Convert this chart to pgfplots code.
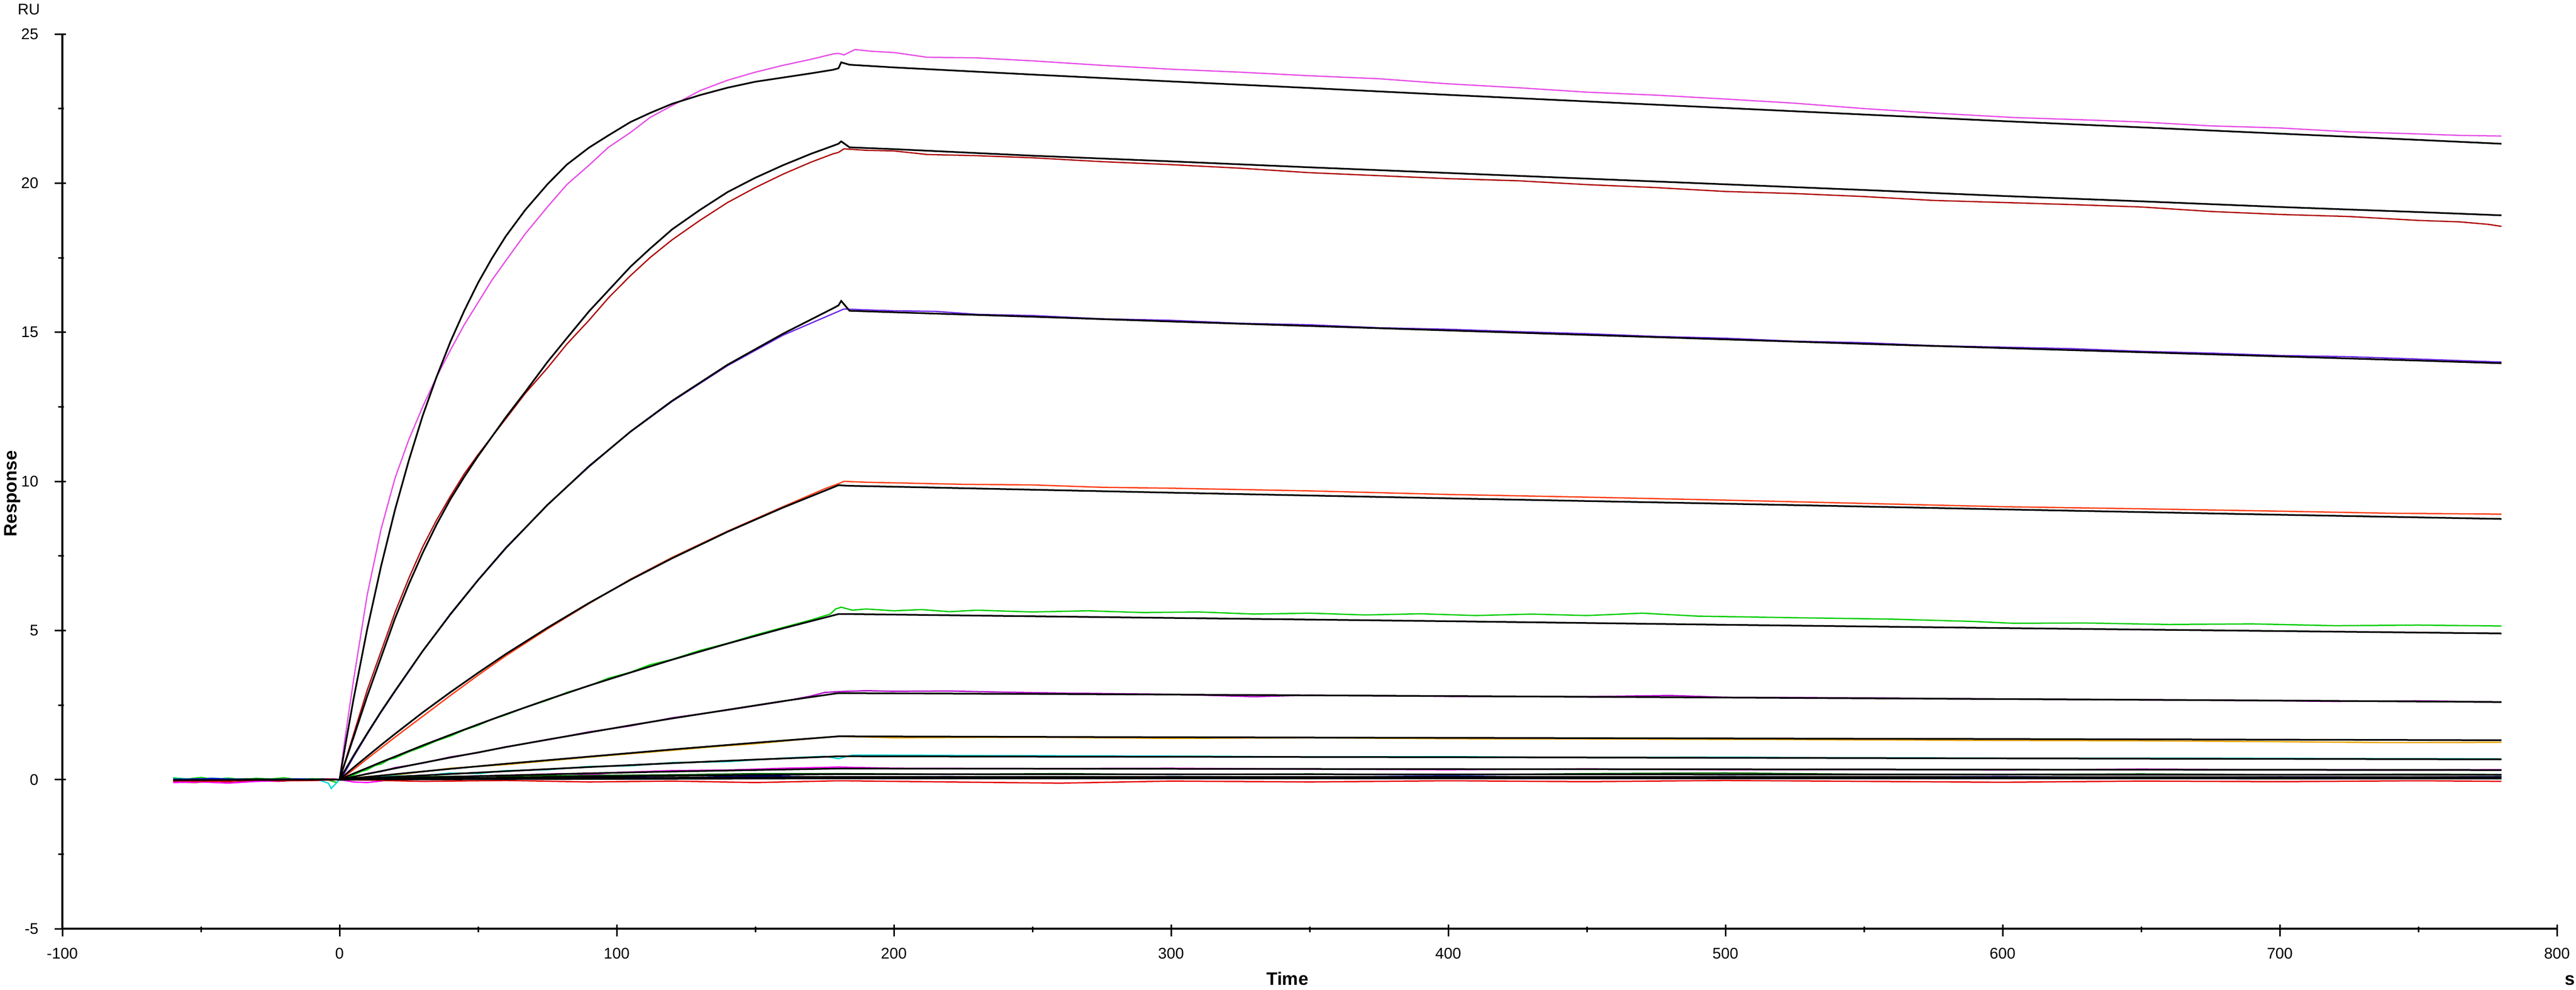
\documentclass[border=0pt]{standalone}
\usepackage{fontspec}
\setmainfont{Liberation Sans}
\usepackage{pgfplots}
\pgfplotsset{compat=1.18}
\definecolor{cMag}{RGB}{230,80,230}
\definecolor{cDRed}{RGB}{175,10,10}
\definecolor{cViol}{RGB}{110,40,235}
\definecolor{cORed}{RGB}{255,60,20}
\definecolor{cGreen}{RGB}{0,205,0}
\definecolor{cPurp}{RGB}{175,0,200}
\definecolor{cOrange}{RGB}{235,165,0}
\definecolor{cCyan}{RGB}{0,215,215}
\definecolor{cMag2}{RGB}{255,0,255}
\definecolor{cDGreen}{RGB}{0,100,0}
\definecolor{cBlue}{RGB}{0,0,200}
\definecolor{cRed}{RGB}{230,0,0}
\begin{document}
\begin{tikzpicture}
\path[use as bounding box] (-24.2pt,-23.6pt) rectangle (975.8pt,360.4pt);
\begin{axis}[
  at={(0,0)}, anchor=south west,
  scale only axis, width=968.4pt, height=347.2pt,
  xmin=-100, xmax=800, ymin=-5, ymax=25,
  axis x line=bottom, axis y line=left,
  axis line style={-, line width=0.7pt},
  xtick={-100,0,...,800}, ytick={-5,0,...,25},
  minor x tick num=1, minor y tick num=1,
  tick style={black, line width=0.6pt},
  tick align=center,
  major tick length=4.5pt, minor tick length=2.2pt,
  every major y tick/.append style={xshift=-0.8pt},
  every minor y tick/.append style={xshift=-0.5pt},
  every major x tick/.append style={yshift=-0.7pt},
  every minor x tick/.append style={yshift=-0.3pt},
  /pgf/number format/assume math mode=true,
  ticklabel style={font=\fontsize{6}{7}\selectfont},
  yticklabel style={xshift=-3.5pt},
  xticklabel style={yshift=-1.8pt},
  clip=true,
]
% ---------------- data (coloured) ----------------
\addplot[cMag, line width=0.5pt] coordinates {
(-60,-0.05)(-54,-0.08)(-48,-0.03)(-42,-0.07)(-36,-0.02)(-30,-0.06)(-24,-0.03)(-18,-0.01)(-12,0.0)(-6,-0.02)(-2,0.03)(0,0)
(2,1.4)(5,3.3)(10,6.2)(15,8.4)(20,10.1)(25,11.4)(30,12.5)(35,13.5)(40,14.4)(45,15.25)(50,16.0)(55,16.75)(60,17.4)(67,18.3)(75,19.2)(82,19.95)(90,20.6)(97,21.2)(105,21.7)(112,22.2)(120,22.6)(130,23.1)(140,23.45)(150,23.72)(160,23.95)(170,24.15)(178,24.33)(180,24.35)(182,24.3)(186,24.48)(192,24.42)(200,24.38)(212,24.22)(230,24.2)(250,24.1)(275,23.95)(300,23.82)(325,23.72)(350,23.6)(375,23.5)(400,23.33)(425,23.2)(450,23.05)(475,22.95)(500,22.82)(525,22.68)(550,22.5)(575,22.35)(604,22.2)(630,22.12)(650,22.05)(675,21.92)(700,21.85)(725,21.72)(750,21.65)(765,21.6)(780,21.58)};
\addplot[cDRed, line width=0.5pt] coordinates {
(-60,-0.08)(-52,-0.1)(-45,-0.05)(-38,-0.09)(-30,-0.04)(-22,-0.06)(-15,-0.02)(-8,-0.03)(-3,0.0)(0,0)
(2,0.6)(5,1.5)(10,3.0)(15,4.3)(20,5.6)(25,6.75)(30,7.8)(35,8.7)(40,9.5)(45,10.25)(50,10.9)(55,11.5)(60,12.1)(67,12.95)(75,13.8)(82,14.6)(90,15.4)(97,16.15)(105,16.9)(112,17.5)(120,18.1)(130,18.75)(140,19.35)(150,19.85)(160,20.3)(170,20.7)(178,20.98)(180,21.03)(182,21.15)(190,21.1)(200,21.08)(212,20.96)(230,20.92)(250,20.85)(275,20.72)(300,20.62)(325,20.5)(350,20.35)(375,20.25)(400,20.15)(425,20.08)(450,19.95)(475,19.85)(500,19.72)(525,19.65)(550,19.55)(575,19.42)(604,19.34)(625,19.28)(650,19.2)(675,19.05)(700,18.95)(725,18.88)(750,18.75)(765,18.7)(775,18.62)(780,18.55)};
\addplot[cViol, line width=0.5pt] coordinates {
(-60,0.04)(-53,0.01)(-46,0.05)(-40,0.0)(-33,0.03)(-26,-0.01)(-19,0.02)(-12,0.0)(-6,0.03)(0,0)
(2,0.25)(5,0.75)(10,1.52)(15,2.26)(20,2.95)(30,4.3)(40,5.56)(50,6.7)(60,7.78)(75,9.2)(90,10.52)(105,11.66)(120,12.68)(140,13.88)(160,14.9)(170,15.3)(178,15.62)(180,15.7)(182,15.78)(190,15.75)(200,15.72)(215,15.7)(230,15.6)(250,15.56)(275,15.45)(300,15.4)(325,15.3)(350,15.25)(375,15.15)(400,15.1)(425,15.02)(450,14.95)(475,14.86)(500,14.8)(525,14.7)(550,14.65)(575,14.55)(600,14.5)(625,14.45)(650,14.36)(675,14.3)(700,14.22)(725,14.18)(750,14.1)(765,14.05)(780,14.0)};
\addplot[cORed, line width=0.5pt] coordinates {
(-60,-0.03)(-50,0.02)(-42,-0.04)(-34,0.01)(-26,-0.02)(-18,0.03)(-10,-0.01)(-4,0.02)(0,0)
(2,0.12)(5,0.33)(10,0.7)(15,1.06)(20,1.42)(30,2.12)(40,2.82)(50,3.5)(60,4.15)(75,5.05)(90,5.9)(105,6.72)(120,7.45)(140,8.33)(160,9.15)(175,9.75)(180,9.92)(182,10.0)(190,9.97)(200,9.95)(225,9.9)(250,9.88)(275,9.8)(300,9.77)(350,9.68)(400,9.56)(450,9.47)(500,9.37)(550,9.26)(600,9.15)(650,9.08)(700,9.0)(740,8.93)(780,8.9)};
\addplot[cGreen, line width=0.5pt] coordinates {
(-60,0.06)(-55,0.02)(-50,0.07)(-45,0.01)(-40,0.05)(-35,0.0)(-30,0.04)(-25,0.02)(-20,0.06)(-15,0.0)(-10,0.03)(-5,0.01)(-1,-0.1)(0,0)
(2,0.05)(5,0.15)(8,0.28)(10,0.33)(13,0.48)(15,0.52)(18,0.68)(20,0.72)(25,0.93)(30,1.1)(35,1.3)(40,1.46)(45,1.66)(50,1.82)(55,2.02)(60,2.17)(67,2.42)(75,2.66)(82,2.92)(90,3.14)(97,3.4)(105,3.6)(112,3.85)(120,4.03)(130,4.33)(140,4.57)(150,4.85)(160,5.1)(170,5.35)(177,5.55)(179,5.72)(181,5.78)(185,5.68)(190,5.72)(200,5.66)(210,5.7)(220,5.63)(230,5.68)(250,5.62)(270,5.66)(290,5.6)(310,5.62)(330,5.55)(350,5.58)(370,5.52)(390,5.56)(410,5.5)(430,5.55)(450,5.5)(470,5.58)(490,5.48)(510,5.45)(530,5.42)(560,5.38)(590,5.3)(604,5.24)(630,5.25)(660,5.2)(690,5.22)(720,5.16)(750,5.18)(780,5.15)};
\addplot[cPurp, line width=0.5pt] coordinates {
(-60,-0.02)(-52,0.02)(-44,-0.03)(-36,0.01)(-28,-0.02)(-20,0.02)(-12,-0.01)(-5,0.01)(0,0)
(5,0.08)(10,0.2)(15,0.27)(20,0.4)(30,0.55)(40,0.76)(50,0.9)(60,1.1)(75,1.33)(90,1.6)(105,1.8)(120,2.07)(140,2.33)(160,2.62)(170,2.8)(175,2.92)(180,2.95)(190,2.98)(200,2.96)(220,2.97)(240,2.93)(260,2.9)(300,2.86)(330,2.78)(350,2.83)(400,2.79)(450,2.78)(480,2.82)(500,2.76)(550,2.74)(600,2.7)(650,2.68)(700,2.64)(720,2.62)(750,2.64)(780,2.6)};
\addplot[cOrange, line width=0.5pt] coordinates {
(-60,0.03)(-50,-0.01)(-40,0.02)(-30,-0.02)(-20,0.01)(-10,-0.01)(0,0)
(10,0.1)(20,0.15)(40,0.38)(60,0.5)(90,0.75)(120,0.98)(135,1.1)(150,1.2)(165,1.33)(180,1.45)(200,1.4)(250,1.42)(300,1.38)(350,1.4)(400,1.37)(450,1.36)(500,1.35)(550,1.33)(600,1.31)(650,1.3)(700,1.27)(740,1.24)(780,1.25)};
\addplot[cCyan, line width=0.5pt] coordinates {
(-60,0.05)(-52,0.0)(-45,0.04)(-38,0.01)(-30,0.03)(-22,-0.01)(-15,0.02)(-8,0.0)(-4,-0.12)(-3,-0.3)(-1,-0.1)(0,0)
(10,0.05)(20,0.12)(30,0.13)(40,0.22)(50,0.2)(60,0.3)(75,0.33)(90,0.44)(105,0.46)(120,0.57)(140,0.6)(160,0.72)(175,0.78)(180,0.7)(185,0.82)(200,0.82)(250,0.8)(300,0.79)(350,0.76)(400,0.77)(450,0.74)(500,0.75)(550,0.73)(600,0.72)(650,0.72)(700,0.71)(750,0.7)(780,0.69)};
\addplot[cMag2, line width=0.5pt] coordinates {
(-60,-0.1)(-50,-0.08)(-40,-0.12)(-30,-0.06)(-20,-0.04)(-10,-0.02)(0,0)
(5,-0.08)(10,-0.1)(15,-0.05)(20,0.02)(30,0.05)(40,0.1)(60,0.14)(80,0.2)(90,0.16)(100,0.24)(120,0.3)(140,0.32)(160,0.38)(180,0.42)(200,0.38)(250,0.37)(300,0.38)(350,0.35)(400,0.33)(450,0.36)(500,0.33)(550,0.34)(600,0.32)(650,0.35)(700,0.33)(750,0.32)(780,0.33)};
\addplot[cDGreen, line width=0.5pt] coordinates {
(-60,0.02)(-45,0.0)(-30,0.03)(-15,0.0)(0,0)
(10,0.04)(30,0.1)(60,0.12)(90,0.14)(120,0.16)(150,0.2)(180,0.2)(220,0.18)(260,0.2)(300,0.17)(350,0.19)(400,0.16)(450,0.2)(500,0.22)(550,0.18)(600,0.17)(650,0.19)(700,0.16)(750,0.18)(780,0.17)};
\addplot[cBlue, line width=0.5pt] coordinates {
(-60,0.0)(-45,0.03)(-30,-0.01)(-15,0.02)(0,0)
(10,0.02)(30,0.06)(60,0.04)(90,0.1)(120,0.06)(150,0.12)(180,0.08)(220,0.1)(260,0.06)(300,0.1)(350,0.08)(400,0.12)(450,0.07)(500,0.1)(550,0.08)(600,0.1)(650,0.06)(700,0.09)(750,0.08)(780,0.1)};
\addplot[cRed, line width=0.5pt] coordinates {
(-60,-0.04)(-45,-0.06)(-30,-0.02)(-15,-0.04)(0,0)
(10,-0.02)(30,-0.06)(60,-0.03)(90,-0.08)(120,-0.05)(150,-0.1)(180,-0.04)(220,-0.08)(260,-0.12)(300,-0.05)(350,-0.08)(400,-0.04)(450,-0.07)(500,-0.03)(550,-0.06)(600,-0.09)(650,-0.05)(700,-0.07)(750,-0.04)(780,-0.06)};
% ---------------- fits (black) ----------------
\addplot[black, line width=0.65pt] coordinates {
(-60,-0.02)(0,0)(2,1.1)(5,2.67)(10,5.05)(15,7.16)(20,9.04)(25,10.7)(30,12.2)(35,13.5)(40,14.68)(45,15.72)(50,16.66)(55,17.48)(60,18.22)(67,19.1)(75,19.96)(82,20.62)(90,21.19)(97,21.6)(105,22.05)(112,22.35)(120,22.66)(130,22.95)(140,23.2)(150,23.4)(160,23.54)(170,23.68)(178,23.8)(180,23.85)(181,24.05)(184,23.97)(200,23.88)(250,23.64)(300,23.41)(350,23.19)(400,22.96)(450,22.74)(500,22.52)(550,22.30)(600,22.08)(650,21.87)(700,21.66)(750,21.45)(780,21.32)};
\addplot[black, line width=0.65pt] coordinates {
(0,0)(2,0.57)(5,1.4)(10,2.8)(15,4.1)(20,5.4)(25,6.55)(30,7.6)(35,8.55)(40,9.4)(45,10.15)(50,10.85)(55,11.5)(60,12.15)(67,13.0)(75,14.0)(82,14.8)(90,15.7)(97,16.4)(105,17.2)(112,17.8)(120,18.45)(130,19.1)(140,19.7)(150,20.18)(160,20.6)(170,20.98)(178,21.25)(180,21.32)(181,21.4)(184,21.2)(200,21.14)(250,20.92)(300,20.73)(350,20.53)(400,20.34)(450,20.15)(500,19.96)(550,19.77)(600,19.57)(650,19.39)(700,19.2)(750,19.03)(780,18.92)};
\addplot[black, line width=0.65pt] coordinates {
(0,0)(5,0.79)(10,1.55)(15,2.28)(20,2.97)(30,4.31)(40,5.54)(50,6.69)(60,7.76)(75,9.21)(90,10.5)(105,11.67)(120,12.7)(140,13.91)(160,14.95)(178,15.8)(180,15.9)(181,16.05)(184,15.72)(200,15.67)(250,15.52)(300,15.36)(350,15.21)(400,15.06)(450,14.91)(500,14.76)(550,14.61)(600,14.47)(650,14.33)(700,14.19)(750,14.05)(780,13.96)};
\addplot[black, line width=0.65pt] coordinates {
(0,0)(5,0.40)(10,0.78)(15,1.16)(20,1.53)(30,2.25)(40,2.93)(50,3.58)(60,4.21)(75,5.09)(90,5.92)(105,6.70)(120,7.42)(140,8.31)(160,9.12)(180,9.87)(184,9.85)(200,9.82)(300,9.62)(400,9.43)(500,9.25)(600,9.06)(700,8.88)(780,8.74)};
\addplot[black, line width=0.65pt] coordinates {
(0,0)(5,0.2)(10,0.39)(15,0.585)(20,0.77)(30,1.145)(40,1.50)(50,1.85)(60,2.19)(75,2.68)(90,3.15)(105,3.59)(120,4.02)(140,4.56)(160,5.07)(180,5.55)(184,5.55)(300,5.42)(400,5.31)(500,5.19)(600,5.08)(700,4.98)(780,4.9)};
\addplot[black, line width=0.65pt] coordinates {
(0,0)(10,0.19)(20,0.376)(30,0.56)(40,0.74)(50,0.91)(60,1.09)(75,1.34)(90,1.58)(105,1.82)(120,2.05)(140,2.34)(160,2.63)(180,2.90)(300,2.85)(400,2.8)(500,2.75)(600,2.7)(700,2.65)(780,2.6)};
\addplot[black, line width=0.65pt] coordinates {
(0,0)(10,0.09)(20,0.18)(40,0.36)(60,0.53)(90,0.77)(120,1.01)(150,1.235)(180,1.45)(300,1.42)(450,1.39)(600,1.36)(780,1.32)};
\addplot[black, line width=0.65pt] coordinates {
(0,0)(10,0.05)(30,0.14)(60,0.28)(90,0.42)(120,0.55)(150,0.67)(180,0.78)(400,0.75)(600,0.71)(780,0.68)};
\addplot[black, line width=0.65pt] coordinates {
(0,0)(30,0.07)(60,0.14)(90,0.21)(120,0.27)(150,0.32)(180,0.37)(780,0.32)};
\addplot[black, line width=0.65pt] coordinates {
(0,0)(60,0.07)(120,0.13)(180,0.18)(780,0.16)};
\addplot[black, line width=0.65pt] coordinates {
(0,0)(60,0.035)(120,0.065)(180,0.09)(780,0.08)};
\addplot[black, line width=0.65pt] coordinates {
(0,0)(90,0.02)(180,0.04)(780,0.035)};
\end{axis}
\node[anchor=base, font=\fontsize{6}{7}\selectfont] at (-13pt,354.8pt) {RU};
\node[anchor=base, rotate=90, font=\bfseries\fontsize{7}{8}\selectfont] at (-17.7pt,168.8pt) {Response};
\node[anchor=base, font=\bfseries\fontsize{7}{8}\selectfont] at (475.6pt,-21.8pt) {Time};
\node[anchor=base, font=\bfseries\fontsize{7}{8}\selectfont] at (973.4pt,-21.8pt) {s};
\end{tikzpicture}
\end{document}
